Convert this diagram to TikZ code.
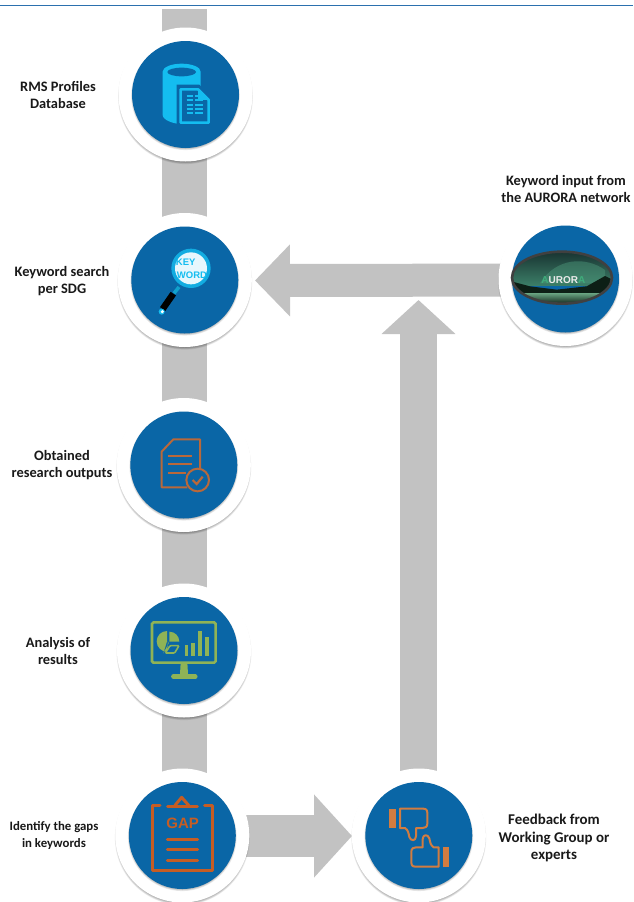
\documentclass[tikz,border=0pt]{standalone}
\usepackage{fontspec}
\setmainfont{Carlito}
\setsansfont{Liberation Sans}
\usetikzlibrary{arrows.meta}
\definecolor{disc}{HTML}{0A66A6}
\definecolor{bar}{HTML}{C2C2C2}
\definecolor{rulec}{HTML}{2B70AE}
\definecolor{cyanic}{HTML}{14BDF0}
\definecolor{rust}{HTML}{B9683A}
\definecolor{rustb}{HTML}{C65D24}
\definecolor{rustc}{HTML}{D27C40}
\definecolor{leaf}{HTML}{8FB356}
\definecolor{skytop}{HTML}{17302F}
\definecolor{skylow}{HTML}{3C7F68}
\definecolor{glow}{HTML}{4E9A7C}
\definecolor{treeline}{HTML}{0D1F16}
\definecolor{water}{HTML}{6AA583}
\definecolor{logoa}{HTML}{3FAE7C}
\tikzset{
  whitedisc/.style={circle,fill=white,minimum size=134pt,inner sep=0pt},
  bluedisc/.style={circle,fill=disc,minimum size=107pt,inner sep=0pt},
  softshade/.style={black,opacity=.08},
  lab/.style={align=center,font=\bfseries\fontsize{14.4}{17}\selectfont,text=black!90,inner sep=0pt},
  trunk/.style={bar,line width=45pt},
  fatone/.style={bar,line width=33pt,-{Triangle[width=70pt,length=35pt]}},
  fattwo/.style={bar,line width=37pt,-{Triangle[width=72pt,length=34pt]}},
  fatthree/.style={bar,line width=42pt,-{Triangle[width=81pt,length=38pt]}},
  zoomed/.style={x=0.33333pt,y=-0.33333pt},
}
\newcommand{\stepdisc}[3]{%
  \foreach \rr in {65,65.6,66.2,66.8,67.4}{\fill[softshade] (#2,#3+2.2) circle[radius=\rr];}
  \node[whitedisc] (#1) at (#2,#3) {};
  \foreach \rr in {52.6,53.2,53.8,54.4}{\fill[softshade] (#2,#3+1.2) circle[radius=\rr];}
  \node[bluedisc] (#1c) at (#2,#3) {};
}
\newcommand{\thumbshape}{%
    \fill (148,140) rectangle (168,198);
    \draw[line width=2pt,line join=round] (180,140) -- (250,140)
     .. controls (262,140) and (262,148) .. (262,158) -- (262,185)
     .. controls (262,195) and (255,198) .. (248,198) -- (228,198) -- (228,222)
     .. controls (228,238) and (212,238) .. (208,225) .. controls (205,212) and (205,205) .. (195,198)
     -- (180,198) -- cycle;
}
\begin{document}
\begin{tikzpicture}[x=1pt,y=-1pt]
\useasboundingbox (0,0) rectangle (633,902);
\fill[white] (0,0) rectangle (633,902);
\draw[rulec,line width=1.5pt] (0,5.5) -- (633,5.5);
% connector ends
\coordinate (top) at (184.5,9);
\coordinate (gap0) at (184.5,835);
\draw[trunk] (top) -- (gap0);
\coordinate (join) at (418.5,300);
\coordinate (fb0) at (418.5,835);
\coordinate (aur0) at (565,280);
\coordinate (kw0) at (255,280.5);
\draw[fatone] (aur0) -- (kw0);
\draw[fattwo] (fb0) -- (join);
\coordinate (gapr) at (230,836);
\coordinate (fbl) at (352,836);
\draw[fatthree] (gapr) -- (fbl);
% discs
\stepdisc{db}{185.5}{94.5}
\stepdisc{kw}{184.8}{280}
\stepdisc{res}{183.8}{465}
\stepdisc{ana}{184}{650.5}
\stepdisc{gap}{182.3}{835.5}
\stepdisc{fb}{418.8}{835.5}
\stepdisc{aur}{565.5}{279}
% labels
\node[lab] (l1) at (58,95) {RMS Profiles\\Database};
\node[lab] (l2) at (62,281) {Keyword search\\per SDG};
\node[lab] (l3) at (62,465) {Obtained\\research outputs};
\node[lab] (l4) at (58,650.5) {Analysis of\\results};
\node[lab,font=\bfseries\fontsize{12.8}{17}\selectfont] (l5) at (54,835) {Identify the gaps\\in keywords};
\node[lab,font=\bfseries\fontsize{14.9}{17.5}\selectfont] (l6) at (554,838) {Feedback from\\Working Group or\\experts};
\node[lab] (l7) at (566,189) {Keyword input from\\the AURORA network};
% icon 1 database
\begin{scope}[shift={(110,0)},zoomed]
  \fill[cyanic] (158,215) arc[start angle=180,end angle=360,x radius=57,y radius=24]
    -- (272,345) .. controls (272,360) and (240,372) .. (215,372)
    .. controls (190,372) and (158,360) .. (158,345) -- cycle;
  \fill[disc] (215,216) ellipse[x radius=43,y radius=13];
  \fill[disc] (200,254) -- (268,254) -- (308,294) -- (308,380) -- (200,380) -- cycle;
  \draw[cyanic,line width=2.6pt,fill=disc,line join=round] (212,268) -- (264,268) -- (296,300) -- (296,368) -- (212,368) -- cycle;
  \foreach \yy in {288,301,314,327,340}{
    \draw[cyanic,line width=1.7pt] (230,\yy) -- (250,\yy) (255,\yy) -- (278,\yy);
  }
  \fill[cyanic] (264,268) -- (296,300) -- (264,300) -- cycle;
\end{scope}
% icon 2 lens
\begin{scope}[shift={(110,205)},zoomed]
  \draw[cyanic!85!black,line width=3.5pt] (207,246) -- (192,265);
  \draw[black,line width=6.5pt] (190,266) -- (158,312);
  \fill[cyanic] (155,320) circle[radius=9];
  \fill[white] (157,320) circle[radius=5];
  \fill[cyanic!80!disc] (243,190) circle[radius=59];
  \fill[white!90!cyan] (243,190) circle[radius=48];
  \begin{scope}
    \clip (243,190) circle[radius=50];
    \node[inner sep=0pt,text=cyanic,font=\sffamily\bfseries\fontsize{9.5}{10}\selectfont] (kwa) at (227,172) {KEY};
    \node[inner sep=0pt,text=cyanic,font=\sffamily\bfseries\fontsize{9.5}{10}\selectfont] (kwb) at (246,210) {WORD};
  \end{scope}
\end{scope}
% icon 3 document
\begin{scope}[shift={(110,400)},zoomed,rust,line width=2pt]
  \draw[line join=round] (232,262) -- (155,262) -- (155,155) -- (190,118) -- (270,118) -- (270,208);
  \draw (175,167) -- (246,167) (175,192) -- (246,192) (175,220) -- (228,220);
  \draw (263,240) circle[radius=34];
  \draw[line width=2.2pt] (248,240) -- (260,252) -- (278,230);
\end{scope}
% icon 4 monitor
\begin{scope}[shift={(110,580)},zoomed,leaf]
  \draw[line width=2.6pt,rounded corners=1.5pt] (126,127) rectangle (317,248);
  \fill (212,248) -- (232,248) -- (234,282) -- (210,282) -- cycle;
  \draw[line width=4.4pt,line cap=round] (190,290) -- (256,290);
  \fill (171,184) -- (171,153) arc[start angle=270,end angle=90,radius=31] -- (174,184) -- (176,190) -- (160,220) -- cycle;
  \fill (178,155) arc[start angle=270,end angle=360,radius=30] -- (178,185) -- cycle;
  \draw[line width=1.6pt,rounded corners=1pt] (166,219) -- (180,197) -- (207,197) -- (194,219) -- cycle;
  \fill (224,195) rectangle (235,228);
  \fill (243,188) rectangle (254,228);
  \fill (263,154) rectangle (275,228);
  \fill (286,172) rectangle (297,228);
\end{scope}
% icon 5 clipboard
\begin{scope}[shift={(110,762)},zoomed,rustb,line width=3pt,line cap=round]
  \draw[line join=round] (150,130) -- (128,130) -- (128,326) -- (306,326) -- (306,130) -- (284,130);
  \draw (173,132) -- (262,132);
  \draw[line join=round] (195,130) -- (215,106) -- (236,130);
  \node[inner sep=0pt,font=\sffamily\bfseries\fontsize{15}{15}\selectfont] (gaptxt) at (218,183) {GAP};
  \draw (172,232) -- (263,232) (172,263) -- (263,263) (172,294) -- (263,294);
\end{scope}
% icon 6 thumbs
\begin{scope}[shift={(340,762)},zoomed,rustc]
  \thumbshape
  \begin{scope}[rotate around={180:(238,227)}]
    \thumbshape
  \end{scope}
\end{scope}
% icon 7 aurora
\begin{scope}[shift={(490,215)},zoomed]
  \begin{scope}
    \clip (216,188) ellipse[x radius=150,y radius=78];
    \shade[top color=skytop,bottom color=skylow] (60,105) rectangle (370,212);
    \fill[glow,opacity=.45] (150,205) .. controls (200,125) and (290,125) .. (345,165) -- (345,205) -- cycle;
    \fill[treeline] (60,198) -- (120,214) -- (200,224) -- (290,214) -- (345,183) -- (370,195) -- (370,238) -- (60,238) -- cycle;
    \shade[top color=water,bottom color=treeline] (60,234) rectangle (370,268);
  \end{scope}
  \draw[black!75,line width=2.6pt] (216,188) ellipse[x radius=150,y radius=78];
  \node[inner sep=0pt,text=white!92!black,font=\sffamily\bfseries\fontsize{10}{10}\selectfont] (aurt) at (220,195) {{\color{logoa}A}UROR{\color{logoa}A}};
\end{scope}
\end{tikzpicture}
\end{document}
